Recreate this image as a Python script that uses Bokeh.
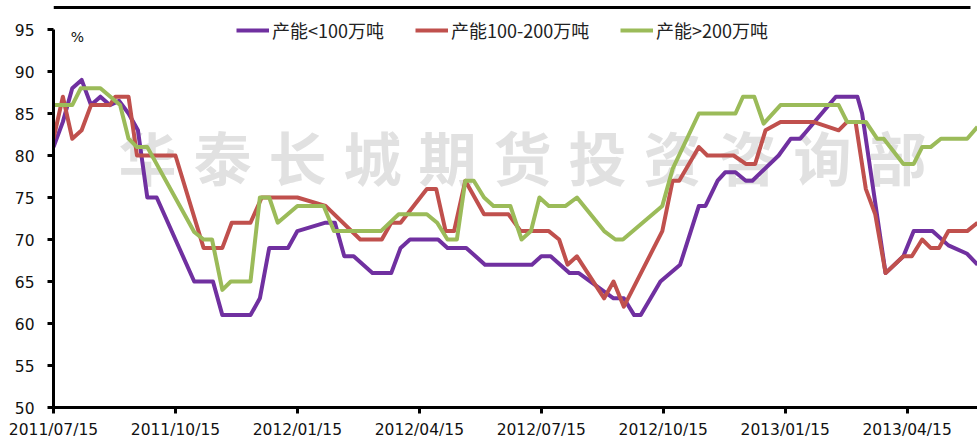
from bokeh.plotting import figure
from bokeh.models import Range1d, FixedTicker, Legend, LegendItem, Label
from bokeh.core.properties import value
from bokeh.embed import file_html
from bokeh.resources import INLINE

# ---------------- data (week index from 2011/07/15) ----------------
tick_weeks = [0, 13, 26, 39, 52, 65, 78, 91]
tick_labels = ["2011/07/15", "2011/10/15", "2012/01/15", "2012/04/15",
               "2012/07/15", "2012/10/15", "2013/01/15", "2013/04/15"]
y_ticks = [50, 55, 60, 65, 70, 75, 80, 85, 90, 95]

series_names = ["产能<100万吨", "产能100-200万吨", "产能>200万吨"]
series_colors = ["#7030A0", "#C0504D", "#9BBB59"]

small_weeks = [0, 1, 2, 3, 4, 5, 6, 7, 8, 9, 10, 11, 15, 17, 18, 21, 22, 23, 25, 26,
               29, 30, 31, 32, 34, 36, 37, 38, 41, 42, 44, 46, 51, 52, 53, 55, 56,
               59.7, 60.8, 61.9, 62.6, 64.7, 66.8, 68.8, 69.5, 70.8, 71.6, 72.7, 73.8,
               74.5, 77.3, 78.6, 79.6, 83.4, 85.7, 86.2, 88.7, 90.6, 91.7, 93.7, 95.4,
               97.4, 98.5]
small_vals = [81, 84, 88, 89, 86, 87, 86, 86.5, 85, 83, 75, 75, 65, 65, 61, 61, 63, 69, 69, 71,
              72, 72, 68, 68, 66, 66, 69, 70, 70, 69, 69, 67, 67, 68, 68, 66, 66,
              63, 63, 61, 61, 65, 67, 74, 74, 77, 78, 78, 77,
              77, 80, 82, 82, 87, 87, 85, 66, 68, 71, 71, 69.3,
              68.3, 67]

mid_weeks = [0, 1, 2, 3, 4, 6, 6.6, 8, 8.9, 13, 16, 18, 19, 21, 22.2, 26, 29, 32.7, 35,
             36, 37, 39.8, 40.8, 41.8, 42.7, 43.9, 45.9, 48.5, 49.8, 52.8, 53.9, 54.8,
             55.8, 58.7, 59.7, 60.8, 64.9, 66, 66.7, 68.8, 69.7, 72.5, 73.8, 74.8, 75.9,
             77.5, 81, 83.7, 84.6, 85.5, 86.6, 87.6, 88.7, 90.6, 91.5, 92.6, 93.5, 94.4,
             95.4, 97.4, 98.5]
mid_vals = [82, 87, 82, 83, 86, 86, 87, 87, 80, 80, 69, 69, 72, 72, 75, 75, 74, 70, 70,
            72, 72, 76, 76, 71, 71, 77, 73, 73, 71, 71, 70, 67,
            68, 63, 65, 62, 71, 77, 77, 81, 80, 80, 79, 79, 83,
            84, 84, 83, 84, 84, 76, 73, 66, 68, 68, 70, 69, 69,
            71, 71, 72]

large_weeks = [0, 2, 2.9, 5, 7.1, 8, 8.9, 10, 15, 16, 16.9, 18, 18.9, 21, 22, 23, 23.9,
               26, 28.8, 29.9, 34.9, 36.8, 39.8, 40.9, 42, 43, 43.9, 44.8, 45.9, 46.9,
               48.7, 49.9, 50.9, 51.8, 52.8, 54.6, 55.8, 58.7, 59.9, 60.7, 64.9, 66,
               68.8, 72.7, 73.5, 74.7, 75.7, 77.5, 83.7, 84.6, 86.6, 87.8, 88.5, 90.6,
               91.7, 92.6, 93.5, 94.6, 97.4, 98.5]
large_vals = [86, 86, 88, 88, 86, 82, 81, 81, 70.9, 70, 70, 64, 65, 65, 75, 75, 72,
              74, 74, 71, 71, 73, 73, 72, 70, 70, 77, 77, 75, 74,
              74, 70, 71, 75, 74, 74, 75, 71, 70, 70, 74, 78.4,
              85, 85, 87, 87, 83.8, 86, 86, 84, 84, 82, 82, 79,
              79, 81, 81, 82, 82, 83.4]

watermark = "华泰长城期货投资咨询部"
unit_label = "%"

# ---------------- figure ----------------
# frame: page x 53..977, page y 0..407 (95 sits at y=29), 8.4 px per unit
px_per_unit = 8.4
y_top = 50 + 407 / px_per_unit
px_per_week = 924 / 98.5
p = figure(width=977, height=443, x_range=Range1d(0, 98.5), y_range=Range1d(50, y_top),
           toolbar_location=None, output_backend="svg",
           min_border_left=53, min_border_right=0, min_border_top=0, min_border_bottom=36)
p.outline_line_color = None
p.xgrid.visible = False
p.ygrid.visible = False
p.background_fill_color = "white"
p.border_fill_color = "white"

for ax in (p.xaxis[0], p.yaxis[0]):
    ax.axis_line_width = 3
    ax.axis_line_color = "black"
    ax.major_tick_line_width = 3
    ax.major_tick_line_color = "black"
    ax.major_tick_out = 6
    ax.major_tick_in = 0
    ax.minor_tick_line_color = None
    ax.major_label_text_font = "DejaVu Sans"
    ax.major_label_text_font_size = "15.5px"
    ax.major_label_text_color = "#111111"

p.xaxis.ticker = FixedTicker(ticks=tick_weeks)
p.xaxis.major_label_overrides = {w: lab for w, lab in zip(tick_weeks, tick_labels)}
p.xaxis.major_label_standoff = 7
p.yaxis.ticker = FixedTicker(ticks=y_ticks)
p.yaxis.bounds = (50, 95)
p.yaxis.major_label_standoff = 13

# top rule of the chart box (drawn as a glyph about 7px below the top edge)
rule_y = 50 + 400 / px_per_unit
p.segment(x0=[0], y0=[rule_y], x1=[(970 - 53) / px_per_week], y1=[rule_y],
          line_color="black", line_width=3)

# watermark (behind lines)
wm_x = [(147 + 75 * i - 53) / px_per_week for i in range(len(watermark))]
p.text(x=wm_x, y=[80] * len(watermark), text=list(watermark),
       text_font=value("Noto Sans CJK SC"), text_font_style="bold",
       text_font_size="58px", text_color="#e1e1e1",
       text_align="center", text_baseline="middle")

renderers = []
for wk, vals, col in ((small_weeks, small_vals, series_colors[0]),
                      (mid_weeks, mid_vals, series_colors[1]),
                      (large_weeks, large_vals, series_colors[2])):
    r = p.line(wk, vals, line_width=4, line_color=col, line_join="round")
    renderers.append(r)

legend_x = [183, 362, 567]
for name, r, lx in zip(series_names, renderers, legend_x):
    leg = Legend(items=[LegendItem(label=name, renderers=[r])],
                 location=(lx, 364), orientation="horizontal",
                 padding=0, margin=0, border_line_color=None,
                 background_fill_alpha=0, glyph_width=33, glyph_height=20,
                 label_height=20, label_standoff=3,
                 label_text_font="Noto Sans CJK SC", label_text_font_size="18px",
                 label_text_color="#222222")
    p.add_layout(leg)

p.add_layout(Label(x=(77 - 53) / px_per_week, y=94.1, text=unit_label,
                   text_font="DejaVu Sans", text_font_size="14px",
                   text_align="center", text_baseline="middle", text_color="#111111"))

open("out.html", "w").write(file_html(p, INLINE))
